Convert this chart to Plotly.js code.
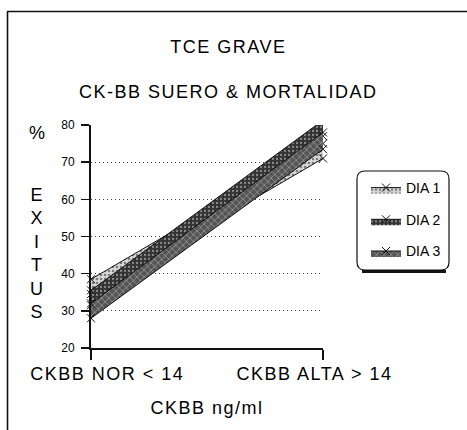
<!DOCTYPE html>
<html>
<head>
<meta charset="utf-8">
<script src="https://cdn.plot.ly/plotly-3.0.1.min.js"></script>
<style>
  html, body { margin: 0; padding: 0; background: #fff; }
  #chart { width: 467px; height: 430px; }
  #chart .annotation-text.big, #chart .g-xtitle text { letter-spacing: 1.5px; }
</style>
</head>
<body>
<div id="chart"></div>
<script>
// ---- data ----
const categories = ['CKBB NOR < 14', 'CKBB ALTA > 14'];
const seriesNames = ['DIA 1', 'DIA 2', 'DIA 3'];
const dia1Low  = [34.5, 71.0];
const dia1High = [38.5, 75.0];
const dia2Low  = [31.5, 77.0];
const dia2High = [35.5, 81.3];
const dia3Low  = [28.0, 73.5];
const dia3High = [32.0, 78.0];
const yTicks = [20, 30, 40, 50, 60, 70, 80];

// ---- helpers ----
const esc = s => s.replace(/&/g, '&amp;').replace(/</g, '&lt;').replace(/>/g, '&gt;');
const xIdx = categories.map((c, i) => i);
const L = 91, R = 323, T = 125, B = 348;
const px = x => (x - L) / (R - L);
const py = y => (B - y) / (B - T);

const styles = [
  {pattern: {shape: '.', bgcolor: '#d8d8d8', fgcolor: '#7a7a7a', size: 4, solidity: 0.3}},
  {pattern: {shape: '.', bgcolor: '#333333', fgcolor: '#8a8a8a', size: 4, solidity: 0.25}},
  {pattern: {shape: 'x', bgcolor: '#555555', fgcolor: '#b8b8b8', size: 5, solidity: 0.2}}
];
const lows = [dia1Low, dia2Low, dia3Low];
const highs = [dia1High, dia2High, dia3High];

const traces = [];
seriesNames.forEach((name, i) => {
  traces.push({
    x: xIdx, y: lows[i], type: 'scatter', mode: 'lines+markers',
    line: {color: '#111', width: 1},
    marker: {symbol: 'x-thin-open', size: 8, color: '#111', line: {width: 1, color: '#111'}},
    cliponaxis: false, showlegend: false, legendgroup: 'g' + i, hoverinfo: 'skip'
  });
  traces.push({
    x: xIdx, y: highs[i], type: 'scatter', mode: 'lines+markers', name: name,
    fill: 'tonexty', fillcolor: styles[i].pattern.bgcolor, fillpattern: styles[i].pattern,
    line: {color: '#111', width: 1},
    marker: {symbol: 'x-thin-open', size: 8, color: '#111', line: {width: 1, color: '#111'}},
    cliponaxis: false, legendgroup: 'g' + i
  });
});

// rounded legend box
const bx0 = px(357), bx1 = px(449), byT = py(171), byB = py(270);
const rx = 8 / (R - L), ry = 8 / (B - T);
const boxPath = `M ${bx0 + rx},${byT} L ${bx1 - rx},${byT} Q ${bx1},${byT} ${bx1},${byT - ry} ` +
  `L ${bx1},${byB + ry} Q ${bx1},${byB} ${bx1 - rx},${byB} L ${bx0 + rx},${byB} ` +
  `Q ${bx0},${byB} ${bx0},${byB + ry} L ${bx0},${byT - ry} Q ${bx0},${byT} ${bx0 + rx},${byT} Z`;

const shapes = [
  {type: 'path', xref: 'paper', yref: 'paper', path: boxPath, line: {color: '#111', width: 1.2}, layer: 'below'},
  {type: 'line', xref: 'paper', yref: 'paper', x0: px(362), x1: px(446), y0: py(271.5), y1: py(271.5), line: {color: '#111', width: 3}},
  {type: 'line', xref: 'paper', yref: 'paper', x0: px(7.5), x1: px(7.5), y0: py(11.5), y1: py(432), line: {color: '#111', width: 1.6}},
  {type: 'line', xref: 'paper', yref: 'paper', x0: px(7), x1: px(470), y0: py(11.5), y1: py(11.5), line: {color: '#111', width: 1.6}}
];

const fontFam = '"Liberation Sans", Arial, Helvetica, sans-serif';
const catShift = [16.5, -8.5];
const annotations = [
  {text: 'TCE GRAVE', x: px(228), y: py(47), xref: 'paper', yref: 'paper', showarrow: false,
   xanchor: 'center', yanchor: 'middle', font: {size: 18, color: '#000'}},
  {text: 'CK-BB SUERO &amp; MORTALIDAD', x: px(228), y: py(92), xref: 'paper', yref: 'paper', showarrow: false,
   xanchor: 'center', yanchor: 'middle', font: {size: 18, color: '#000'}},
  {text: '%', x: px(37), y: py(133), xref: 'paper', yref: 'paper', showarrow: false,
   xanchor: 'center', yanchor: 'middle', font: {size: 18, color: '#000'}},
  {text: 'E<br>X<br>I<br>T<br>U<br>S', x: px(36), y: py(253), xref: 'paper', yref: 'paper', showarrow: false,
   xanchor: 'center', yanchor: 'middle', align: 'center', font: {size: 18, color: '#000'}}
].concat(categories.map((c, i) => ({
  text: esc(c), x: xIdx[i], xref: 'x', y: py(374), yref: 'paper', xshift: catShift[i],
  showarrow: false, xanchor: 'center', yanchor: 'middle', font: {size: 18, color: '#000'}
})));

const layout = {
  width: 467, height: 430,
  margin: {l: L, r: 467 - R, t: T, b: 430 - B, pad: 0},
  paper_bgcolor: '#fff', plot_bgcolor: '#fff',
  font: {family: fontFam, color: '#000'},
  showlegend: true,
  legend: {
    x: px(366), y: py(172), xanchor: 'left', yanchor: 'top',
    bgcolor: 'rgba(0,0,0,0)', borderwidth: 0,
    font: {size: 14, color: '#000'}, tracegroupgap: 10.5, itemwidth: 30
  },
  xaxis: {
    range: [0, 1], tickvals: xIdx, ticktext: ['', ''],
    showgrid: false, zeroline: false,
    showline: true, linecolor: '#111', linewidth: 2,
    ticks: 'outside', ticklen: 10, tickwidth: 1.6, tickcolor: '#111',
    title: {text: 'CKBB ng/ml', font: {size: 18, color: '#000'}, standoff: 40},
    fixedrange: true
  },
  yaxis: {
    range: [20, 80], tickvals: yTicks,
    showgrid: true, gridcolor: '#444', gridwidth: 1, griddash: '1px,3px',
    zeroline: false,
    showline: true, linecolor: '#111', linewidth: 2,
    ticks: 'outside', ticklen: 8, tickwidth: 1.6, tickcolor: '#111',
    tickfont: {size: 12, color: '#000'}, ticklabelstandoff: 4,
    fixedrange: true
  },
  shapes: shapes,
  annotations: annotations
};

Plotly.newPlot('chart', traces, layout, {displayModeBar: false, staticPlot: true}).then(gd => {
  gd.querySelectorAll('.annotation-text').forEach((el) => { el.classList.add('big'); });
  gd.querySelectorAll('.annotation-text').forEach((el, i) => { if (i === 2 || i === 3) el.classList.remove('big'); });
});
</script>
</body>
</html>
